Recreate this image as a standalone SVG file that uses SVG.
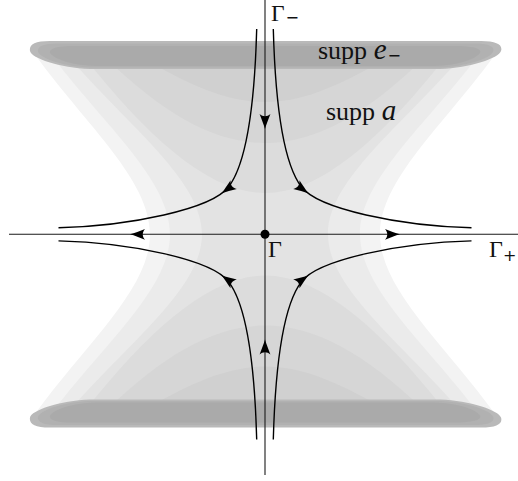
<svg xmlns="http://www.w3.org/2000/svg" xmlns:xlink="http://www.w3.org/1999/xlink" width="518" height="481" viewBox="0 0 518 481">
<style>
.ax{stroke:#1a1a1a;stroke-width:1.1;fill:none}
.fl{stroke:#000;stroke-width:1.4;fill:none}
.lbl{font-family:"Liberation Serif","Times New Roman",serif;font-size:26px;fill:#111}
.sub{font-family:"DejaVu Sans","Liberation Sans",sans-serif;font-size:16px}
.it{font-style:italic;font-size:29px}
</style>
<defs>
<path id="ah" d="M0,0 C-4.5,-1.2 -10,-3.6 -15,-5.4 C-12,-2 -12,2 -15,5.4 C-10,3.6 -4.5,1.2 0,0 Z" fill="#000"/>
<g id="band">
<path d="M50,41 L481,41 C497,41 503,45 501,51 C499,58 470,68 440,69 L90,69 C60,68 31,58 30,51 C29,45 34,41 50,41 Z" fill="#b9b9b9"/>
<path d="M58,43.5 L474,43.5 C490,43.5 495,47 493,52 C489,59 465,66.5 440,67.5 L90,67.5 C64,66.5 42,59 38,52 C37,47 42,43.5 58,43.5 Z" fill="#b1b1b1"/>
<path d="M75,46 L455,46 C475,46 482,49 480,53 C475,60 455,65.5 435,66 L95,66 C75,65.5 55,60 50,53 C49,49 55,46 75,46 Z" fill="#aaaaaa"/>
</g>
<g id="arcs">
<path d="M85,58 C150,140 210,193 265,193 C320,193 380,140 445,58 Z" fill="#dcdcdc"/>
<path d="M108,60 C165,115 215,143 265,143 C315,143 365,115 422,60 Z" fill="#d6d6d6"/>
<path d="M150,62 C195,88 230,102 265,102 C300,102 335,88 380,62 Z" fill="#d0d0d0"/>
</g>
</defs>
<g id="supp-a">
<path d="M36,56 C87,126 150,180 150,234.3 C150,288.6 87,342.6 36,412.6 L494,412.6 C443,342.6 380,288.6 380,234.3 C380,180 443,126 494,56 Z" fill="#f3f3f3"/>
<path d="M52,56 C105,126 170,180 170,234.3 C170,288.6 105,342.6 52,412.6 L478,412.6 C425,342.6 360,288.6 360,234.3 C360,180 425,126 478,56 Z" fill="#ebebeb"/>
<path d="M68,56 C128,126 202,180 202,234.3 C202,288.6 128,342.6 68,412.6 L462,412.6 C402,342.6 328,288.6 328,234.3 C328,180 402,126 462,56 Z" fill="#e3e3e3"/>
<use href="#arcs" xlink:href="#arcs"/>
<use href="#arcs" xlink:href="#arcs" transform="matrix(1 0 0 -1 0 468.6)"/>
</g>
<g id="supp-e-minus">
<use href="#band" xlink:href="#band"/>
</g>
<g id="supp-e-plus">
<use href="#band" xlink:href="#band" transform="matrix(1 0 0 -1 0 468.6)"/>
</g>
<g id="connectors">
<line class="ax" x1="265" y1="0" x2="265" y2="475"/>
<line class="ax" x1="9" y1="234.3" x2="518" y2="234.3"/>
<path id="flow-tl" class="fl" d="M256.7,29 C254.5,110 245.5,165 228.5,187 C211.5,209 130,226 58.5,227.7"/>
<path id="flow-tr" class="fl" d="M273.3,29 C275.5,110 284.5,165 301.5,187 C318.5,209 400,226 471.5,227.7"/>
<path id="flow-bl" class="fl" d="M256.7,439.6 C254.5,358.6 245.5,303.6 228.5,281.6 C211.5,259.6 130,242.6 58.5,240.9"/>
<path id="flow-br" class="fl" d="M273.3,439.6 C275.5,358.6 284.5,303.6 301.5,281.6 C318.5,259.6 400,242.6 471.5,240.9"/>
<use href="#ah" xlink:href="#ah" transform="translate(265,129) rotate(90)"/>
<use href="#ah" xlink:href="#ah" transform="translate(265,339.6) rotate(-90)"/>
<use href="#ah" xlink:href="#ah" transform="translate(130,234.3) rotate(180)"/>
<use href="#ah" xlink:href="#ah" transform="translate(400,234.3)"/>
<use href="#ah" xlink:href="#ah" transform="translate(221.5,193.4) rotate(144.4)"/>
<use href="#ah" xlink:href="#ah" transform="translate(308.5,193.4) rotate(35.6)"/>
<use href="#ah" xlink:href="#ah" transform="translate(221.5,275.2) rotate(-144.4)"/>
<use href="#ah" xlink:href="#ah" transform="translate(308.5,275.2) rotate(-35.6)"/>
</g>
<g id="gamma">
<circle cx="265" cy="234.3" r="4.5" fill="#000"/>
<text class="lbl" x="268" y="257" style="font-size:24px">Γ</text>
</g>
<g id="gamma-minus"><text class="lbl" x="271" y="20.5" style="font-size:23.5px">Γ<tspan class="sub" dx="1" dy="2">−</tspan></text></g>
<g id="gamma-plus"><text class="lbl" x="489" y="257" style="font-size:24px">Γ<tspan class="sub" dy="4">+</tspan></text></g>
<g id="label-e"><text class="lbl" x="318" y="59.3">supp <tspan class="it">e</tspan><tspan class="sub" dx="1" dy="2">−</tspan></text></g>
<g id="label-a"><text class="lbl" x="326" y="120">supp <tspan class="it">a</tspan></text></g>
</svg>
